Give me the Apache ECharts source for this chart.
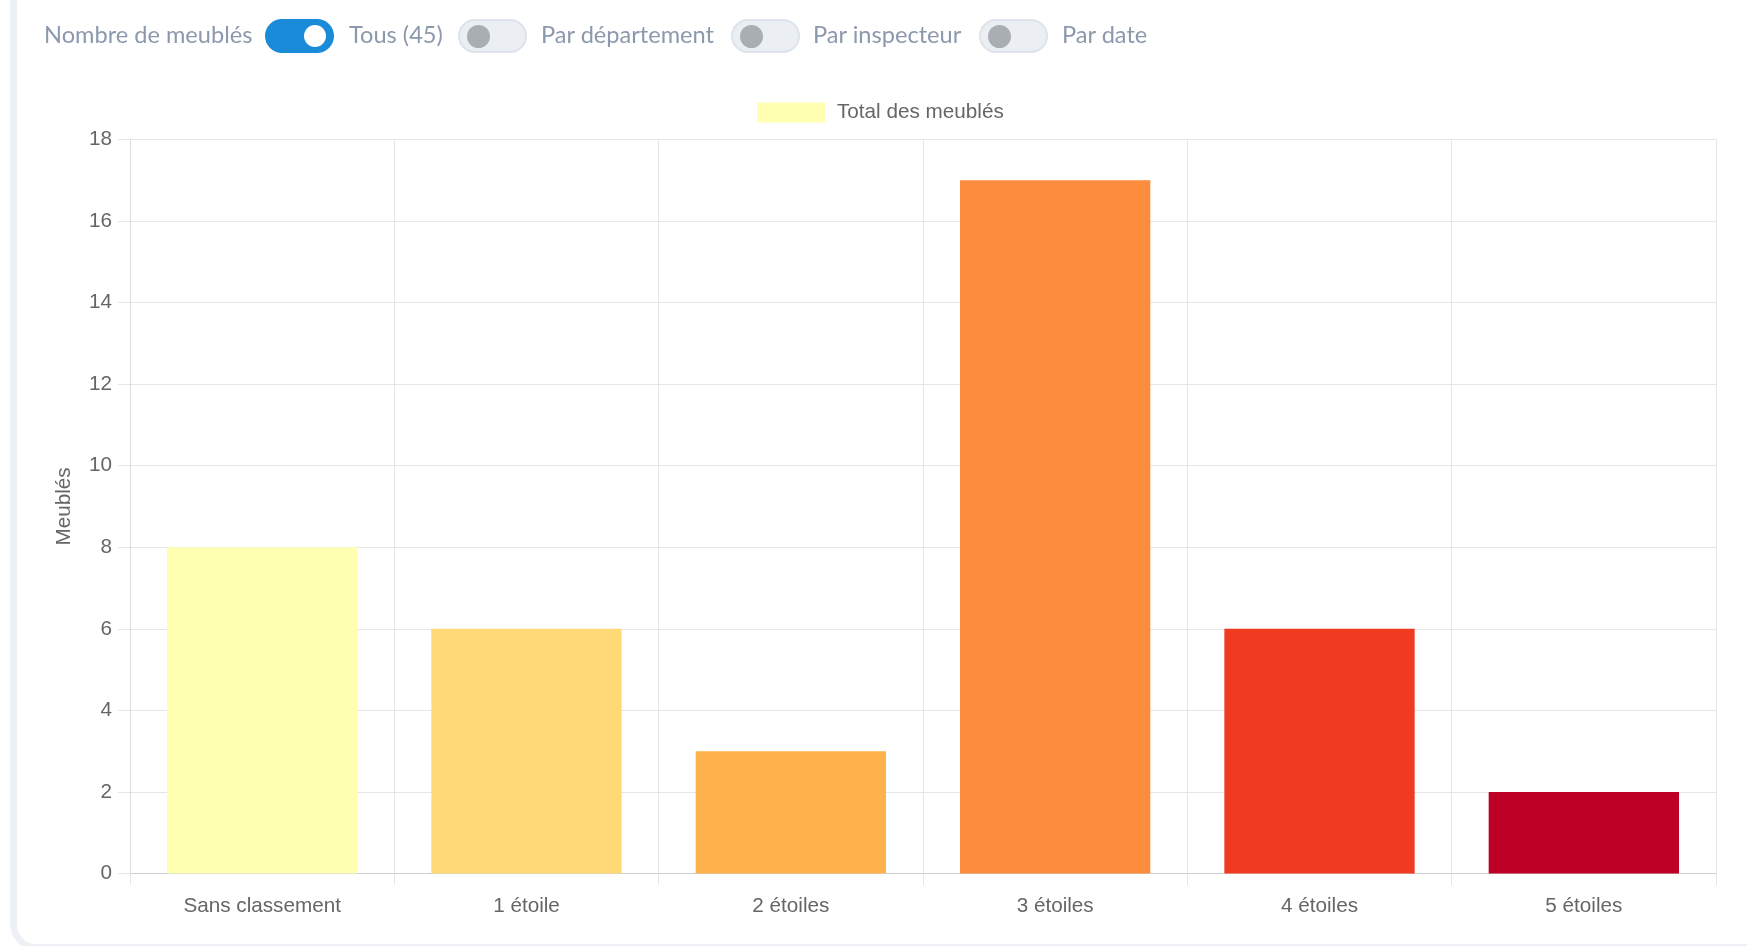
<!DOCTYPE html>
<html>
<head>
<meta charset="utf-8">
<script src="https://cdn.jsdelivr.net/npm/echarts@6/dist/echarts.min.js"></script>
<style>
  html, body { margin: 0; padding: 0; background: #fff; overflow: hidden; }
  #card { position: absolute; left: 10px; top: -30px; width: 1800px; height: 980px;
          border-left: 7px solid #edf1f6; border-bottom: 6px solid #edf1f6;
          border-radius: 0 0 0 26px; box-sizing: border-box; }
  #chart { position: absolute; left: 0; top: 0; width: 1747px; height: 946px; }
  #bar { position: absolute; left: 0; top: 0; height: 70px; width: 1747px; z-index: 5;
         font-family: Lato, "Open Sans", sans-serif; font-size: 23.6px; color: #8c99ad; }
  .lbl { position: absolute; top: 18px; line-height: 32px; white-space: nowrap; }
  .tg { position: absolute; top: 19px; width: 69px; height: 34px; border-radius: 17px; box-sizing: border-box; }
  .tg.on { background: #1a8bd8; }
  .tg.off { background: #ebeff4; border: 2px solid #dde3ea; }
  .knob { position: absolute; top: 6px; width: 22px; height: 22px; border-radius: 50%; }
  .tg.on .knob { background: #fff; right: 8px; }
  .tg.off .knob { background: #a9aeb3; left: 7px; top: 4px; width: 23px; height: 23px; }
</style>
</head>
<body>
<div id="card"></div>
<div id="chart"></div>
<div id="bar">
  <span class="lbl" style="left:44px">Nombre de meublés</span>
  <div class="tg on" style="left:265px"><div class="knob"></div></div>
  <span class="lbl" style="left:349px">Tous (45)</span>
  <div class="tg off" style="left:458px"><div class="knob"></div></div>
  <span class="lbl" style="left:541px">Par département</span>
  <div class="tg off" style="left:731px"><div class="knob"></div></div>
  <span class="lbl" style="left:813px">Par inspecteur</span>
  <div class="tg off" style="left:979px"><div class="knob"></div></div>
  <span class="lbl" style="left:1062px">Par date</span>
</div>
<script>
const categories = ["Sans classement", "1 étoile", "2 étoiles", "3 étoiles", "4 étoiles", "5 étoiles"];
const values = [8, 6, 3, 17, 6, 2];
const barColors = ["#ffffb2", "#fed976", "#feb24c", "#fd8d3c", "#f03b20", "#bd0026"];
const seriesName = "Total des meublés";
const yAxisName = "Meublés";

const chart = echarts.init(document.getElementById('chart'));
const font = '"Liberation Sans", Arial, sans-serif';
const gridColor = '#e6e6e6';
const fs = 20.7;
chart.setOption({
  animation: false,
  textStyle: { fontFamily: font },
  legend: {
    left: 752, top: 97, padding: 5, itemWidth: 68, itemHeight: 20, itemGap: 10,
    icon: 'rect',
    data: [{ name: seriesName, itemStyle: { color: barColors[0] } }],
    textStyle: { fontSize: fs, color: '#666', fontFamily: font, padding: [4, 0, 0, 7] }
  },
  grid: { left: 130, right: 31, top: 139.5, bottom: 72.5, containLabel: false },
  xAxis: {
    type: 'category',
    data: categories,
    boundaryGap: true,
    axisLine: { show: true, lineStyle: { color: '#cfcfcf', width: 1 } },
    axisTick: { show: true, length: 12, lineStyle: { color: gridColor } },
    splitLine: { show: true, lineStyle: { color: gridColor } },
    axisLabel: { fontSize: fs, color: '#666', margin: 22, fontFamily: font }
  },
  yAxis: {
    type: 'value',
    min: 0, max: 18, interval: 2,
    name: yAxisName,
    nameLocation: 'middle',
    nameRotate: 90,
    nameGap: 55,
    nameTextStyle: { fontSize: fs, color: '#666', fontFamily: font },
    axisLine: { show: true, lineStyle: { color: '#dcdcdc' } },
    axisTick: { show: true, length: 12, lineStyle: { color: gridColor } },
    splitLine: { show: true, lineStyle: { color: gridColor } },
    axisLabel: { fontSize: fs, color: '#666', margin: 18, fontFamily: font }
  },
  series: [{
    name: seriesName,
    type: 'bar',
    barCategoryGap: '28%',
    data: values.map((v, i) => ({ value: v, itemStyle: { color: barColors[i] } })),
    itemStyle: { color: barColors[0] }
  }]
});
</script>
</body>
</html>
